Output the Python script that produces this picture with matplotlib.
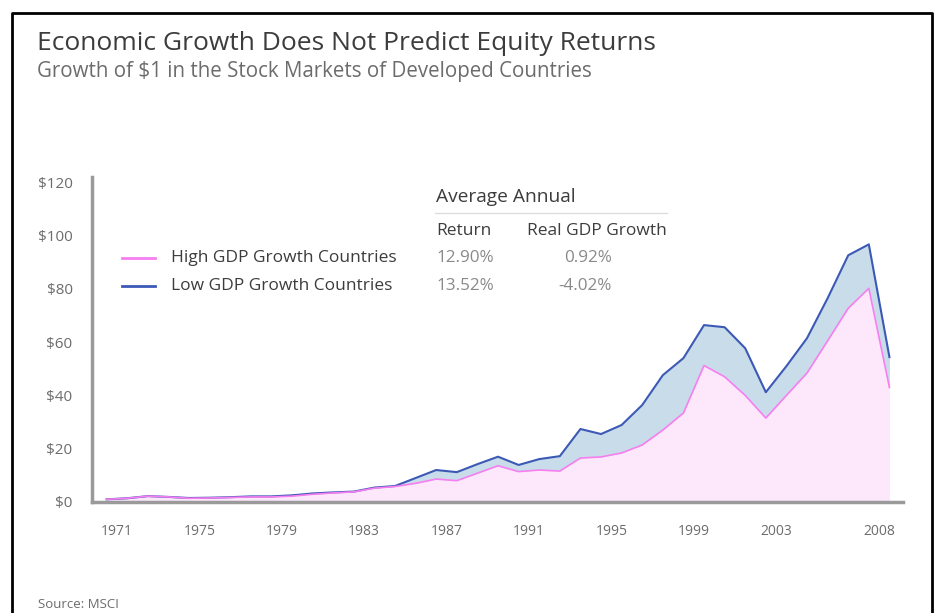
import numpy as np
import matplotlib
matplotlib.use("Agg")
import matplotlib.pyplot as plt
from matplotlib.lines import Line2D

plt.rcParams['font.family'] = ['Open Sans', 'DejaVu Sans']

# growth of $1, end-of-year values
years = list(range(1970, 2009))
high_gdp = [1.0, 1.4, 2.2, 1.9, 1.4, 1.5, 1.7, 1.9, 1.9, 2.2, 2.9, 3.4,
            3.8, 5.2, 5.8, 7.0, 8.6, 8.0, 10.8, 13.6, 11.4, 12.0, 11.6, 16.5,
            16.9, 18.4, 21.4, 27.0, 33.4, 51.2, 47.0, 40.0, 31.5, 40.0, 48.4,
            60.5, 72.7, 80.2, 43.0]
low_gdp = [1.0, 1.4, 2.2, 1.9, 1.5, 1.6, 1.8, 2.1, 2.1, 2.5, 3.2, 3.6,
           3.9, 5.4, 6.0, 9.0, 12.0, 11.2, 14.2, 17.0, 13.9, 16.1, 17.2, 27.4,
           25.5, 28.9, 36.4, 47.6, 54.0, 66.4, 65.6, 57.7, 41.2, 51.0, 61.5,
           76.5, 92.6, 96.7, 54.4]
tick_years = [1971, 1975, 1979, 1983, 1987, 1991, 1995, 1999, 2003, 2008]
y_ticks = [0, 20, 40, 60, 80, 100, 120]

series_names = ["High GDP Growth Countries", "Low GDP Growth Countries"]
avg_return = ["12.90%", "13.52%"]
avg_gdp = ["0.92%", "-4.02%"]

pink_line = "#f77ef0"
pink_fill = "#fde8fb"
blue_line = "#3b59b5"
blue_fill = "#c9dcea"
text_dark = "#3c3c3c"
text_light = "#6c6c6c"

fig = plt.figure(figsize=(9.35, 6.13), dpi=100)
ax = fig.add_axes([0.0984, 0.1811, 0.8674, 0.5302])

x = np.array(years) + 0.5
high = np.array(high_gdp)
low = np.array(low_gdp)
ax.fill_between(x, 0, high, color=pink_fill, lw=0)
ax.fill_between(x, high, low, color=blue_fill, lw=0)
ax.plot(x, low, color=blue_line, lw=1.5)
ax.plot(x, high, color=pink_line, lw=1.2)

ax.set_xlim(1969.79, 2009.16)
ax.set_ylim(0, 122)
ax.set_xticks(tick_years)
ax.set_xticklabels([str(t) for t in tick_years])
ax.set_yticks(y_ticks)
ax.set_yticklabels(["$%d" % v for v in y_ticks])
ax.tick_params(length=0, labelsize=10, colors=text_light)
ax.tick_params(axis='x', pad=16)
ax.tick_params(axis='y', pad=14, labelsize=11)
for s in ["top", "right"]:
    ax.spines[s].set_visible(False)
for s in ["left", "bottom"]:
    ax.spines[s].set_color("#9a9a9a")
    ax.spines[s].set_linewidth(2.5)

# legend drawn by hand with the small stats table
leg_y = [258, 286]
colors = [pink_line, blue_line]
for i in range(2):
    yf = 1 - leg_y[i] / 613
    fig.add_artist(Line2D([122 / 935, 155 / 935], [yf, yf], color=colors[i], lw=2))
    fig.text(171 / 935, yf, series_names[i], fontsize=12.5, color=text_dark, va="center")
    fig.text(436 / 935, yf, avg_return[i], fontsize=12.3, color="#8a8a8a", va="center")
    fig.text(612 / 935, yf, avg_gdp[i], fontsize=12.3, color="#8a8a8a", va="center",
             ha="right")

fig.text(436 / 935, 1 - 197 / 613, "Average Annual", fontsize=13.8, color=text_dark, va="center")
fig.add_artist(Line2D([435 / 935, 667 / 935], [1 - 213 / 613] * 2, color="#dddddd", lw=1))
fig.text(436 / 935, 1 - 231 / 613, "Return", fontsize=12.5, color=text_dark, va="center")
fig.text(667 / 935, 1 - 231 / 613, "Real GDP Growth", fontsize=12.5, color=text_dark,
         va="center", ha="right")

fig.text(37 / 935, 1 - 43 / 613, "Economic Growth Does Not Predict Equity Returns",
         fontsize=19, color=text_dark, va="center")
fig.text(37 / 935, 1 - 72 / 613, "Growth of $1 in the Stock Markets of Developed Countries",
         fontsize=14.8, color=text_light, va="center")
fig.text(38 / 935, 1 - 604 / 613, "Source: MSCI", fontsize=9.5, color=text_light, va="center")

# black frame around the card (bottom edge is cut off)
fx = [12 / 935, 12 / 935, 932 / 935, 932 / 935]
fy = [0, 1 - 13 / 613, 1 - 13 / 613, 0]
fig.add_artist(Line2D(fx, fy, color="black", lw=2))

fig.savefig("out.png", dpi=100)
